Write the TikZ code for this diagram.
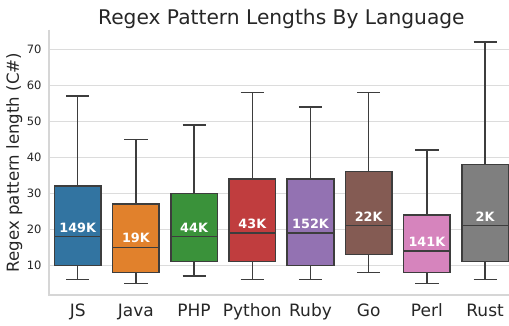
\documentclass[tikz,border=0pt]{standalone}
\usepackage{fontspec}
\setmainfont{DejaVu Sans}

\definecolor{ink}{HTML}{262626}
\definecolor{edge}{HTML}{3D3D3D}
\definecolor{gridc}{HTML}{DCDCDC}
\definecolor{spinec}{HTML}{D6D6D6}
\definecolor{cJS}{HTML}{3274A1}
\definecolor{cJava}{HTML}{E1812C}
\definecolor{cPHP}{HTML}{3A923A}
\definecolor{cPython}{HTML}{C03D3E}
\definecolor{cRuby}{HTML}{9372B2}
\definecolor{cGo}{HTML}{845B53}
\definecolor{cPerl}{HTML}{D684BD}
\definecolor{cRust}{HTML}{7F7F7F}

\tikzset{
  gridline/.style={draw=gridc, line width=1pt},
  spine/.style={draw=spinec, line width=1.2pt},
  boxline/.style={draw=edge, line width=1.5pt},
  ticklabel/.style={text=ink, inner sep=0pt, font=\fontsize{11.5}{13}\selectfont},
  catlabel/.style={text=ink, inner sep=0pt, anchor=base, font=\fontsize{17}{19}\selectfont},
  countlabel/.style={text=white, inner sep=0pt, anchor=base, font=\bfseries\fontsize{12.8}{14}\selectfont},
}

\begin{document}
\begin{tikzpicture}[x=1pt,y=1pt]
\useasboundingbox (0,0) rectangle (509,325);

% title and axis label
\node[text=ink, inner sep=0pt, anchor=base, font=\fontsize{20.2}{23}\selectfont] (title) at (281.4,301) {Regex Pattern Lengths By Language};
\node[text=ink, inner sep=0pt, anchor=base, rotate=90, font=\fontsize{16.6}{19}\selectfont] (ylab) at (19,162.5) {Regex pattern length (C\#)};

% value axis: one unit = 3.6pt
\begin{scope}[yshift=23.7pt, y=3.6pt]
  \foreach \v in {10,20,...,70} {
    \draw[gridline] (49,\v) -- (509,\v);
    \node[ticklabel, anchor=east] (tick\v) at (41.7,\v) {\v};
  }
  \draw[spine] (49,75.44) -- (49,1.75) -- (509,1.75);

  % name / colour / index / lower whisker / Q1 / median / Q3 / upper whisker / count
  \foreach \lang/\col/\i/\lw/\qa/\md/\qc/\uw/\cnt in {
      JS/cJS/0/6/10/18/32/57/149K,
      Java/cJava/1/5/8/15/27/45/19K,
      PHP/cPHP/2/7/11/18/30/49/44K,
      Python/cPython/3/6/11/19/34/58/43K,
      Ruby/cRuby/4/6/10/19/34/54/152K,
      Go/cGo/5/8/13/21/36/58/22K,
      Perl/cPerl/6/5/8/14/24/42/141K,
      Rust/cRust/7/6/11/21/38/72/2K} {
    \pgfmathsetmacro{\cx}{77.7+58.2*\i}
    \draw[boxline] (\cx,\qc) -- (\cx,\uw);
    \draw[boxline] (\cx-11.6,\uw) -- (\cx+11.6,\uw);
    \draw[boxline] (\cx,\qa) -- (\cx,\lw);
    \draw[boxline] (\cx-11.6,\lw) -- (\cx+11.6,\lw);
    \filldraw[boxline, fill=\col] (\cx-23.3,\qa) rectangle (\cx+23.3,\qc);
    \draw[boxline] (\cx-23.3,\md) -- (\cx+23.3,\md);
    \node[countlabel] (cnt\lang) at ([yshift=4.4pt]\cx,\md) {\cnt};
  }
\end{scope}

% category labels
\foreach \lang/\i in {JS/0,Java/1,PHP/2,Python/3,Ruby/4,Go/5,Perl/6,Rust/7} {
  \pgfmathsetmacro{\cx}{77.7+58.2*\i}
  \node[catlabel] (cat\lang) at (\cx,8.3) {\lang};
}
\end{tikzpicture}
\end{document}
